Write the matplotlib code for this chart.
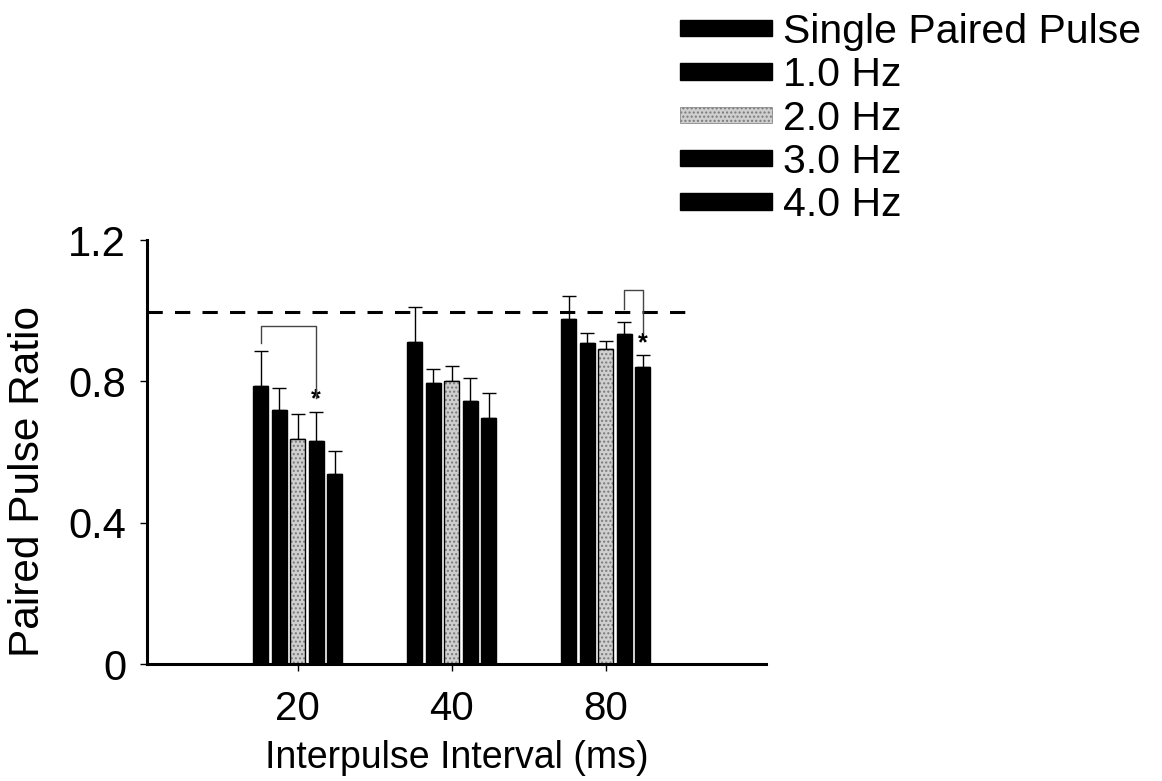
import matplotlib.pyplot as plt
import numpy as np
from matplotlib.patches import Rectangle

plt.rcParams['font.family'] = ['Liberation Sans', 'DejaVu Sans']

# Interpulse intervals (ms)
intervals = ["20", "40", "80"]

# Paired pulse ratio, mean and upper error per condition
series_names = ["Single Paired Pulse", "1.0 Hz", "2.0 Hz", "3.0 Hz", "4.0 Hz"]
single_mean = [0.787, 0.911, 0.977]
single_err = [0.099, 0.099, 0.065]
hz1_mean = [0.720, 0.795, 0.909]
hz1_err = [0.060, 0.040, 0.028]
hz2_mean = [0.637, 0.800, 0.891]
hz2_err = [0.071, 0.043, 0.023]
hz3_mean = [0.631, 0.744, 0.934]
hz3_err = [0.082, 0.066, 0.034]
hz4_mean = [0.538, 0.696, 0.841]
hz4_err = [0.065, 0.071, 0.034]

baseline = 0.996
yticks = [0, 0.4, 0.8, 1.2]
ytick_labels = ["0", "0.4", "0.8", "1.2"]

means = [single_mean, hz1_mean, hz2_mean, hz3_mean, hz4_mean]
errs = [single_err, hz1_err, hz2_err, hz3_err, hz4_err]
gray = "#cfcfcf"

fig = plt.figure(figsize=(11.62, 7.81), dpi=100)
ax = fig.add_axes([0.1265, 0.1498, 0.5327, 0.5429])

x = np.arange(len(intervals))
step = 0.12
width = 0.097

for i, (m, e) in enumerate(zip(means, errs)):
    pos = x + (i - 2) * step
    if i == 2:
        # stippled grey bar: hatch fill first, black outline on top
        ax.bar(pos, m, width, color=gray, edgecolor="#7a7a7a", hatch="....", linewidth=0, zorder=2)
        ax.bar(pos, m, width, fill=False, edgecolor="black", linewidth=1, zorder=3)
    else:
        ax.bar(pos, m, width, color="black", edgecolor="black", linewidth=1, zorder=2)
    ax.errorbar(pos, m, yerr=[np.zeros(len(m)), e], fmt="none", ecolor="black",
                elinewidth=1, capsize=5, capthick=1, zorder=1)

# dashed reference line
ax.plot([-0.977, 2.53], [baseline, baseline], color="black", lw=2.2, dashes=(5, 4), zorder=4)

# significance brackets
bc = "#444444"
x1 = x[0] - 2 * step
x2 = x[0] + 1 * step
ax.plot([x1, x1, x2, x2], [0.909, 0.957, 0.957, 0.753], color=bc, lw=1, zorder=5)
ax.text(x2, 0.715, "*", ha="center", va="bottom", fontsize=18, fontweight="bold")
x3 = x[2] + 1 * step
x4 = x[2] + 2 * step
ax.plot([x3, x3, x4, x4], [1.005, 1.059, 1.059, 0.937], color=bc, lw=1, zorder=5)
ax.text(x4, 0.875, "*", ha="center", va="bottom", fontsize=18, fontweight="bold")

ax.set_xlim(-0.977, 3.04)
ax.set_ylim(0, 1.2)
ax.set_yticks(yticks)
ax.set_yticklabels(ytick_labels, fontsize=30)
ax.set_xticks(x)
ax.set_xticklabels(intervals, fontsize=29)
ax.tick_params(axis="y", direction="out", length=5, width=1, pad=10)
ax.tick_params(axis="x", direction="out", length=5, width=1, pad=14)

for s in ["top", "right"]:
    ax.spines[s].set_visible(False)
for s in ["left", "bottom"]:
    ax.spines[s].set_linewidth(2.2)

ax.set_xlabel("Interpulse Interval (ms)", fontsize=27, labelpad=8)
ax.set_ylabel("Paired Pulse Ratio", fontsize=30.5)
ax.yaxis.set_label_coords(-0.16, 0.43)

handles = []
for i in range(len(series_names)):
    if i == 2:
        handles.append(Rectangle((0, 0), 1, 1, facecolor=gray, edgecolor="#7a7a7a", hatch="....", linewidth=0.5))
    else:
        handles.append(Rectangle((0, 0), 1, 1, facecolor="black", edgecolor="black"))

fig.legend(handles, series_names, loc="upper left", bbox_to_anchor=(680 / 1162, 1 - 13 / 781),
           frameon=False, fontsize=29.5, handlelength=2.25, handleheight=0.245,
           handletextpad=0.27, labelspacing=0.13, borderpad=0, borderaxespad=0)

fig.savefig("out.png", dpi=100)
